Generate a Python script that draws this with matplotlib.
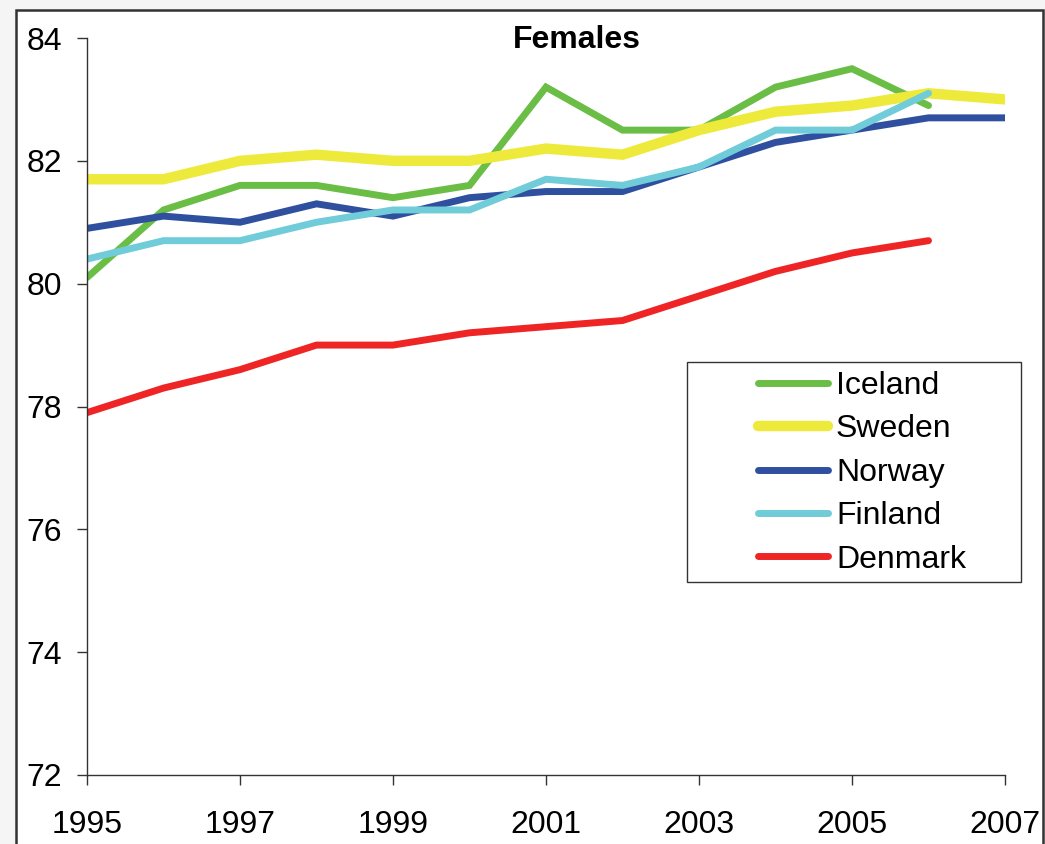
import matplotlib
matplotlib.use("Agg")
import matplotlib.pyplot as plt
from matplotlib.patches import Rectangle

plt.rcParams['font.family'] = ['Liberation Sans', 'DejaVu Sans']

years = list(range(1995, 2008))
iceland = [80.1, 81.2, 81.6, 81.6, 81.4, 81.6, 83.2, 82.5, 82.5, 83.2, 83.5, 82.9]
sweden = [81.7, 81.7, 82.0, 82.1, 82.0, 82.0, 82.2, 82.1, 82.5, 82.8, 82.9, 83.1, 83.0]
norway = [80.9, 81.1, 81.0, 81.3, 81.1, 81.4, 81.5, 81.5, 81.9, 82.3, 82.5, 82.7, 82.7]
finland = [80.4, 80.7, 80.7, 81.0, 81.2, 81.2, 81.7, 81.6, 81.9, 82.5, 82.5, 83.1]
denmark = [77.9, 78.3, 78.6, 79.0, 79.0, 79.2, 79.3, 79.4, 79.8, 80.2, 80.5, 80.7]

series = [
    ("Iceland", iceland, "#6BBE45", 5.0),
    ("Sweden", sweden, "#EEEA3C", 7.5),
    ("Norway", norway, "#2F4F9F", 5.0),
    ("Finland", finland, "#6FCCD8", 5.0),
    ("Denmark", denmark, "#EE2524", 5.0),
]

W, H = 1045, 844
fig = plt.figure(figsize=(W / 100, H / 100), dpi=100)
fig.patch.set_facecolor("#F4F5F4")
fig.patches.append(Rectangle((16 / W, -0.05), (1043 - 16) / W, 1.05 - 10 / H,
                             transform=fig.transFigure, facecolor="white",
                             edgecolor="#333333", linewidth=1.8, zorder=-2))
# legend frame
fig.patches.append(Rectangle((687 / W, 1 - 582 / H), (1021 - 687) / W, (582 - 362) / H,
                             transform=fig.transFigure, facecolor="white",
                             edgecolor="#333333", linewidth=1.0, zorder=-1))

ax = fig.add_axes([87 / W, 1 - 775 / H, (1005 - 87) / W, (775 - 38) / H])
ax.set_facecolor("none")

handles = []
for name, vals, col, lw in series:
    ln, = ax.plot(years[:len(vals)], vals, color=col, lw=lw,
                  solid_capstyle="round", solid_joinstyle="miter", label=name)
    handles.append(ln)

ax.set_xlim(1995, 2007)
ax.set_ylim(72, 84)
ax.set_xticks(range(1995, 2008, 2))
ax.set_yticks(range(72, 85, 2))
for s in ["top", "right"]:
    ax.spines[s].set_visible(False)
for s in ["left", "bottom"]:
    ax.spines[s].set_color("#333333")
    ax.spines[s].set_linewidth(1.0)
ax.tick_params(axis="both", direction="out", length=7, width=1.0,
               color="#333333", labelsize=23)
ax.tick_params(axis="y", pad=11)
ax.tick_params(axis="x", pad=18)

fig.text(577 / W, 1 - 40 / H, "Females", ha="center", va="center",
         fontsize=23, fontweight="bold")

leg = fig.legend(handles=handles, loc="upper left",
                 bbox_to_anchor=(758 / W, 1 - 371 / H), frameon=False,
                 fontsize=23, handlelength=2.19, handletextpad=0.25,
                 labelspacing=0.42, borderpad=0, borderaxespad=0)
for h in leg.legend_handles:
    h.set_solid_capstyle("round")

fig.savefig("out.png", dpi=100, facecolor=fig.get_facecolor())
